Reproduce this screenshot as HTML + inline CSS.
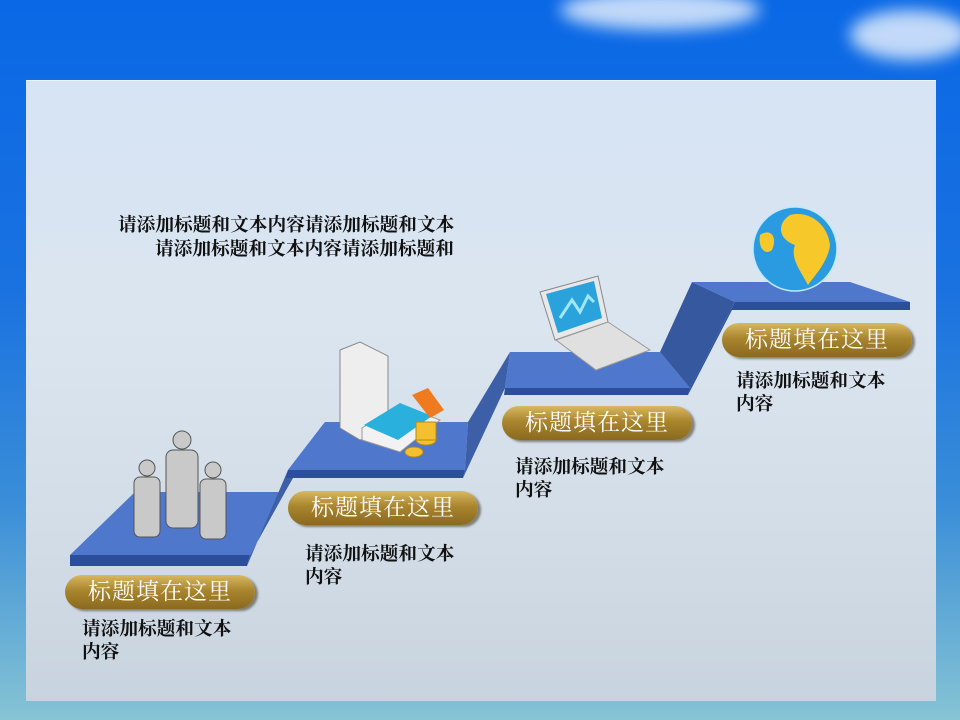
<!DOCTYPE html>
<html><head><meta charset="utf-8"><style>
html,body{margin:0;padding:0}
body{width:960px;height:720px;position:relative;overflow:hidden;
background:linear-gradient(180deg,#0a68e6 0%,#1a72e0 40%,#3a8ed8 70%,#86c4d4 100%);
font-family:"Liberation Sans","Noto Sans CJK SC",sans-serif}
.cloud{position:absolute;border-radius:50%;background:rgba(255,255,255,.75);filter:blur(8px)}
.panel{position:absolute;left:26px;top:80px;width:910px;height:620px;
background:linear-gradient(180deg,#d6e4f5 0%,#dbe5ef 40%,#d2dce6 75%,#c7d3de 100%);border-top:1px solid #eef4fb}
.pill{position:absolute;height:34px;width:190px;border-radius:17px;
background:linear-gradient(180deg,#d8b860 0%,#a9852e 45%,#8a6a1f 100%);
box-shadow:3px 2px 2px rgba(60,50,30,.55);color:#fff;font-family:"Liberation Serif","Noto Serif CJK SC",serif;
font-size:23px;line-height:34px;text-align:center;letter-spacing:1px}
.t{position:absolute;font-size:18.7px;line-height:23px;color:#111;font-family:"Liberation Serif","Noto Serif CJK SC",serif;font-weight:bold}
</style></head><body>
<div class="cloud" style="left:560px;top:-10px;width:200px;height:40px"></div>
<div class="cloud" style="left:850px;top:10px;width:120px;height:50px"></div>
<div class="panel"></div>
<svg width="960" height="720" style="position:absolute;left:0;top:0">
<polygon points="70,555 135,492 285,492 250,555" fill="#4f77cc"/>
<polygon points="70,555 250,555 247,566 70,566" fill="#2c4f9c"/>
<polygon points="250,555 285,492 325,422 288,470 247,566" fill="#3d5fa8"/>
<polygon points="288,470 325,422 468,422 465,470" fill="#4f77cc"/>
<polygon points="288,470 465,470 463,478 286,478" fill="#2c4f9c"/>
<polygon points="465,470 468,422 510,352 505,388 463,478" fill="#3d5fa8"/>
<polygon points="505,388 510,352 660,352 690,388" fill="#4f77cc"/>
<polygon points="505,388 690,388 688,395 504,395" fill="#2c4f9c"/>
<polygon points="660,352 690,388 735,302 692,282" fill="#36589f"/>
<polygon points="692,282 850,282 910,302 735,302" fill="#4f77cc"/>
<polygon points="735,302 910,302 910,310 732,310 688,395 690,388" fill="#2c4f9c"/>
<g fill="#c9c9c9" stroke="#555" stroke-width="1">
<circle cx="147" cy="468" r="8"/><rect x="134" y="477" width="26" height="60" rx="6"/>
<circle cx="182" cy="440" r="9"/><rect x="166" y="450" width="32" height="78" rx="7"/>
<circle cx="213" cy="470" r="8"/><rect x="200" y="479" width="26" height="60" rx="6"/>
</g>
<polygon points="340,350 360,342 388,356 388,432 360,440 340,428" fill="#eee" stroke="#888"/>
<polygon points="362,428 400,405 440,420 400,452 362,440" fill="#f2f2f2" stroke="#999"/>
<polygon points="364,425 400,403 432,416 398,440" fill="#2ab0dc"/>
<polygon points="412,395 428,388 444,410 430,418" fill="#f07a20"/>
<g fill="#f4c030" stroke="#b88a10"><ellipse cx="426" cy="440" rx="10" ry="5"/><ellipse cx="414" cy="452" rx="9" ry="5"/><rect x="416" y="422" width="20" height="18" fill="#f4c030"/></g>
<polygon points="540,292 598,276 608,322 555,340" fill="#e8e8e8" stroke="#888"/>
<polygon points="546,294 594,281 602,318 558,333" fill="#2aa2dc"/>
<polyline points="560,318 572,300 580,312 588,296 594,302" fill="none" stroke="#9ee8f8" stroke-width="3"/>
<polygon points="556,340 608,322 650,350 596,370" fill="#e0e0e0" stroke="#999"/>
<circle cx="795" cy="249" r="42" fill="#2a9be0"/>
<path d="M790 215 C810 210 828 225 830 245 C828 262 815 275 808 285 C800 270 790 258 795 245 C780 240 775 225 790 215Z" fill="#f6c82a"/>
<path d="M760 235 C770 228 778 236 772 250 C765 256 758 248 760 235Z" fill="#f6c82a"/>
<circle cx="795" cy="249" r="42" fill="none" stroke="#bfe8ff" stroke-width="1.5"/>
</svg>
<div class="t" style="left:118px;top:214px">请添加标题和文本内容请添加标题和文本</div>
<div class="t" style="left:155px;top:238px">请添加标题和文本内容请添加标题和</div>
<div class="pill" style="left:65px;top:575px">标题填在这里</div>
<div class="pill" style="left:288px;top:491px">标题填在这里</div>
<div class="pill" style="left:502px;top:406px">标题填在这里</div>
<div class="pill" style="left:722px;top:323px">标题填在这里</div>
<div class="t" style="left:82px;top:618px">请添加标题和文本<br>内容</div>
<div class="t" style="left:305px;top:543px">请添加标题和文本<br>内容</div>
<div class="t" style="left:515px;top:456px">请添加标题和文本<br>内容</div>
<div class="t" style="left:736px;top:370px">请添加标题和文本<br>内容</div>
</body></html>
